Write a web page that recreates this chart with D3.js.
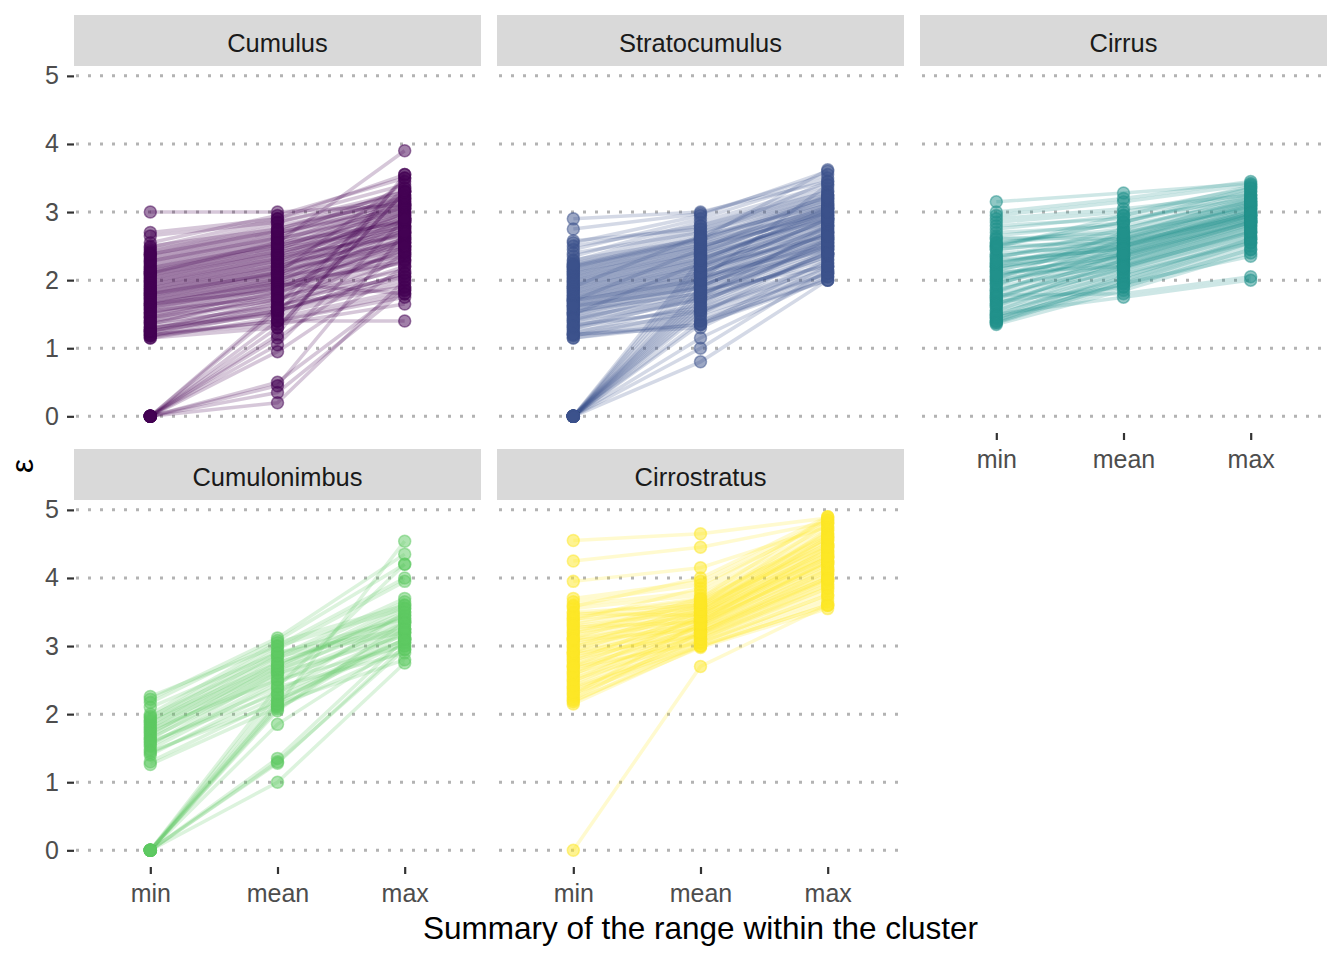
<!DOCTYPE html>
<html>

<head>
	<meta charset="utf-8">
	<script src="https://d3js.org/d3.v7.min.js"></script>
	<style>
		body {
			margin: 0;
			background: #ffffff;
		}

		text {
			font-family: "Liberation Sans", Arial, sans-serif;
		}

		.axis text {
			fill: #4d4d4d;
			font-size: 25px;
		}

		.axis line {
			stroke: #333333;
			stroke-width: 2.2px;
		}

		.axis path.domain {
			display: none;
		}

		.grid line {
			stroke: #b3b3b3;
			stroke-width: 3px;
			stroke-dasharray: 3, 9;
		}

		.strip text {
			fill: #1a1a1a;
			font-size: 25.5px;
		}
	</style>
</head>

<body>
	<div id="chart_container"></div>

	<script>
		// facet order and the three summaries on the x axis
		var cloudTypes = ["Cumulus", "Stratocumulus", "Cirrus", "Cumulonimbus", "Cirrostratus"];
		var summaries = ["min", "mean", "max"];
		var yTicks = [0, 1, 2, 3, 4, 5];

		// one [min, mean, max] triple per cluster
		var cumulus = [
			[1.15, 1.45, 1.85], [1.18, 1.55, 2.05], [1.20, 1.40, 1.75], [1.22, 1.60, 2.30], [1.25, 1.50, 1.95],
			[1.27, 1.70, 2.45], [1.30, 1.55, 2.10], [1.32, 1.65, 1.90], [1.35, 1.80, 2.60], [1.37, 1.60, 2.20],
			[1.40, 1.75, 2.35], [1.42, 1.85, 2.75], [1.45, 1.70, 2.05], [1.47, 1.90, 2.50], [1.50, 1.80, 2.40],
			[1.52, 1.95, 2.85], [1.55, 1.75, 2.15], [1.57, 2.00, 2.65], [1.60, 1.90, 2.30], [1.62, 2.05, 2.90],
			[1.65, 1.85, 2.45], [1.67, 2.10, 2.70], [1.70, 1.95, 2.25], [1.72, 2.15, 3.00], [1.75, 2.00, 2.55],
			[1.77, 2.20, 2.80], [1.80, 2.05, 2.35], [1.82, 2.25, 3.05], [1.85, 2.10, 2.60], [1.87, 2.30, 2.95],
			[1.90, 2.15, 2.50], [1.92, 2.35, 3.10], [1.95, 2.20, 2.70], [1.97, 2.40, 2.85], [2.00, 2.25, 2.55],
			[2.02, 2.45, 3.15], [2.05, 2.30, 2.75], [2.07, 2.50, 3.00], [2.10, 2.35, 2.65], [2.12, 2.55, 3.20],
			[2.15, 2.40, 2.90], [2.17, 2.60, 3.05], [2.20, 2.45, 2.80], [2.22, 2.65, 3.25], [2.25, 2.50, 2.95],
			[2.27, 2.70, 3.10], [2.30, 2.55, 2.85], [2.32, 2.75, 3.30], [2.35, 2.60, 3.00], [2.37, 2.80, 3.15],
			[2.40, 2.65, 3.35], [2.42, 2.85, 3.25], [2.45, 2.70, 3.05], [2.48, 2.90, 3.40], [2.50, 2.75, 3.20],
			[2.55, 2.95, 3.50], [2.65, 2.85, 3.30], [2.70, 2.90, 3.55], [3.00, 3.00, 3.10], [1.18, 1.40, 1.40],
			[1.20, 1.35, 1.65], [1.30, 1.50, 3.50], [2.10, 2.55, 3.90], [1.15, 1.30, 3.30], [1.65, 1.95, 1.80],
			[1.25, 1.65, 3.35], [1.25, 1.55, 2.00], [1.80, 2.10, 3.45],
			[1.52, 1.88, 2.55], [1.58, 1.92, 2.62], [1.63, 1.98, 2.48], [1.68, 2.02, 2.78], [1.73, 2.08, 2.58],
			[1.78, 2.12, 2.88], [1.83, 2.18, 2.68], [1.88, 2.22, 2.92], [1.93, 2.28, 2.72], [1.98, 2.32, 2.98],
			[2.03, 2.38, 2.78], [2.08, 2.42, 3.08], [2.13, 2.48, 2.88], [2.18, 2.52, 3.12], [1.45, 1.82, 2.42],
			[1.38, 1.72, 2.28], [2.28, 2.62, 3.18], [2.38, 2.72, 3.22],
			[0, 1.15, 2.40], [0, 1.05, 2.90], [0, 0.95, 2.20], [0, 1.30, 3.30], [0, 0.50, 1.90],
			[0, 0.45, 2.70], [0, 0.35, 1.85], [0, 0.20, 2.00], [0, 1.55, 2.10], [0, 1.40, 1.80],
			[0, 1.60, 2.50], [0, 1.20, 3.55]
		];

		var stratocumulus = [
			[1.15, 1.40, 2.00], [1.18, 1.55, 2.20], [1.20, 1.35, 2.05], [1.22, 1.65, 2.40], [1.25, 1.50, 2.10],
			[1.28, 1.75, 2.55], [1.30, 1.60, 2.25], [1.33, 1.80, 2.45], [1.35, 1.55, 2.15], [1.38, 1.90, 2.70],
			[1.40, 1.70, 2.35], [1.43, 1.95, 2.60], [1.45, 1.75, 2.30], [1.48, 2.00, 2.80], [1.50, 1.85, 2.50],
			[1.53, 2.05, 2.65], [1.55, 1.80, 2.40], [1.58, 2.10, 2.90], [1.60, 1.90, 2.55], [1.63, 2.15, 2.75],
			[1.65, 1.95, 2.45], [1.68, 2.20, 2.95], [1.70, 2.00, 2.60], [1.73, 2.25, 2.85], [1.75, 2.05, 2.50],
			[1.78, 2.30, 3.00], [1.80, 2.10, 2.70], [1.83, 2.35, 2.90], [1.85, 2.15, 2.65], [1.88, 2.40, 3.05],
			[1.90, 2.20, 2.80], [1.93, 2.45, 3.10], [1.95, 2.25, 2.75], [1.98, 2.50, 3.00], [2.00, 2.30, 2.85],
			[2.03, 2.55, 3.15], [2.05, 2.35, 2.95], [2.08, 2.60, 3.20], [2.10, 2.40, 2.90], [2.13, 2.65, 3.10],
			[2.15, 2.45, 3.00], [2.18, 2.70, 3.25], [2.20, 2.50, 2.95], [2.23, 2.75, 3.30], [2.25, 2.55, 3.05],
			[2.28, 2.80, 3.35], [2.30, 2.60, 3.15], [2.35, 2.85, 3.40], [2.40, 2.70, 3.20], [2.45, 2.90, 3.50],
			[2.50, 2.80, 3.30], [2.55, 2.95, 3.60], [2.58, 2.75, 3.25], [2.75, 2.98, 3.55], [2.90, 3.00, 3.45],
			[1.20, 1.30, 2.20], [1.15, 1.35, 2.00], [1.20, 1.45, 2.10], [2.20, 2.60, 3.62], [1.70, 2.00, 3.40],
			[1.50, 2.25, 3.05], [1.70, 2.45, 3.25], [1.90, 2.65, 3.45],
			[1.52, 1.92, 2.58], [1.57, 1.98, 2.68], [1.62, 2.03, 2.62], [1.67, 2.08, 2.78], [1.72, 2.12, 2.72],
			[1.77, 2.18, 2.88], [1.82, 2.22, 2.82], [1.87, 2.28, 2.98], [1.92, 2.32, 2.92], [1.97, 2.38, 3.08],
			[2.02, 2.42, 3.02], [2.07, 2.48, 3.12], [2.12, 2.52, 3.06], [2.17, 2.58, 3.18], [1.42, 1.82, 2.48],
			[1.32, 1.72, 2.38], [2.22, 2.62, 3.22], [1.62, 1.88, 2.52],
			[0, 0.80, 2.00], [0, 1.00, 2.15], [0, 1.15, 2.05], [0, 1.35, 2.30], [0, 1.40, 2.10],
			[0, 1.50, 2.45], [0, 1.55, 2.25], [0, 1.65, 2.60], [0, 1.70, 2.35], [0, 1.75, 2.80],
			[0, 1.80, 2.50], [0, 1.85, 2.20], [0, 1.90, 2.70], [0, 2.00, 2.55], [0, 2.10, 2.90],
			[0, 2.20, 2.65], [0, 2.30, 3.00], [0, 1.60, 2.40]
		];

		var cirrus = [
			[1.35, 1.85, 2.40], [1.38, 2.00, 2.55], [1.40, 1.90, 2.45], [1.43, 2.10, 2.65], [1.45, 1.95, 2.50],
			[1.48, 2.15, 2.70], [1.50, 2.05, 2.60], [1.55, 2.20, 2.75], [1.60, 2.10, 2.55], [1.65, 2.25, 2.80],
			[1.70, 2.15, 2.65], [1.75, 2.30, 2.85], [1.80, 2.20, 2.70], [1.85, 2.35, 2.90], [1.90, 2.25, 2.75],
			[1.95, 2.40, 2.95], [2.00, 2.30, 2.80], [2.05, 2.45, 3.00], [2.10, 2.35, 2.85], [2.15, 2.50, 3.05],
			[2.20, 2.40, 2.90], [2.25, 2.55, 3.10], [2.30, 2.45, 2.95], [2.35, 2.60, 3.15], [2.40, 2.50, 3.00],
			[2.45, 2.65, 3.10], [2.50, 2.55, 2.95], [2.55, 2.75, 3.20], [2.60, 2.70, 3.05], [2.65, 2.85, 3.25],
			[2.70, 2.80, 3.15], [2.75, 2.95, 3.30], [2.80, 2.90, 3.20], [2.85, 3.00, 3.35], [2.90, 3.05, 3.25],
			[2.95, 3.15, 3.40], [3.00, 3.20, 3.45], [3.15, 3.28, 3.42], [1.55, 2.00, 2.60], [1.62, 2.30, 2.85],
			[1.72, 2.40, 2.95], [1.82, 2.50, 3.05], [1.92, 2.60, 3.10], [2.02, 2.70, 3.15], [2.12, 2.20, 2.70],
			[2.22, 2.65, 3.20], [2.32, 2.75, 3.25], [2.00, 2.35, 2.85], [2.52, 2.85, 3.30], [2.62, 2.60, 3.00],
			[1.78, 1.80, 2.05], [1.50, 1.75, 2.00], [1.40, 2.05, 2.60], [1.45, 1.95, 2.35], [1.37, 1.95, 2.55],
			[2.20, 2.50, 2.90], [2.50, 2.85, 3.35], [1.68, 1.90, 2.45], [2.18, 2.55, 2.95], [2.48, 2.95, 3.38],
			[1.85, 2.28, 2.82], [1.95, 2.36, 2.88], [2.05, 2.42, 2.92], [2.15, 2.48, 2.98], [2.25, 2.52, 3.02],
			[2.35, 2.58, 3.08], [2.45, 2.62, 3.12], [2.55, 2.68, 3.16], [1.75, 2.22, 2.78], [1.65, 2.18, 2.72],
			[2.28, 2.46, 2.98], [2.08, 2.38, 2.86]
		];

		var cumulonimbus = [
			[1.26, 2.10, 2.95], [1.30, 2.20, 3.05], [1.40, 2.35, 3.20], [1.43, 2.25, 3.10], [1.48, 2.45, 3.35],
			[1.53, 2.50, 3.25], [1.55, 2.60, 3.45], [1.58, 2.40, 2.90], [1.63, 2.65, 3.55], [1.65, 2.55, 3.30],
			[1.68, 2.70, 3.60], [1.70, 2.75, 3.40], [1.73, 2.60, 3.15], [1.75, 2.80, 3.65], [1.78, 2.50, 3.00],
			[1.80, 2.85, 3.70], [1.82, 2.65, 3.35], [1.85, 2.90, 3.25], [1.88, 2.70, 3.50], [1.90, 2.95, 3.95],
			[1.92, 2.75, 3.45], [1.95, 3.00, 4.00], [1.97, 2.85, 3.20], [2.00, 3.05, 3.60], [2.10, 2.90, 3.40],
			[2.17, 3.08, 4.20], [2.22, 3.12, 4.35], [2.26, 3.00, 3.55], [1.60, 2.30, 3.10], [1.45, 2.15, 2.80],
			[0, 1.00, 2.75], [0, 1.28, 3.00], [0, 1.35, 3.10], [0, 1.30, 2.95], [0, 1.85, 3.05],
			[0, 2.08, 3.20], [0, 2.12, 4.54], [0, 2.05, 3.35], [0, 2.20, 3.10], [0, 2.30, 3.50],
			[0, 2.40, 4.20], [0, 2.15, 3.25]
		];

		var cirrostratus = [
			[2.15, 3.00, 3.60], [2.18, 3.05, 3.75], [2.20, 2.98, 3.55], [2.25, 3.10, 3.85], [2.30, 3.00, 3.65],
			[2.35, 3.15, 3.95], [2.40, 3.05, 3.70], [2.45, 3.20, 4.00], [2.50, 3.10, 3.80], [2.55, 3.25, 4.05],
			[2.60, 3.15, 3.90], [2.65, 3.30, 4.15], [2.70, 3.20, 3.95], [2.75, 3.35, 4.20], [2.80, 3.25, 4.00],
			[2.85, 3.40, 4.30], [2.90, 3.30, 4.10], [2.95, 3.45, 4.35], [3.00, 3.35, 4.20], [3.05, 3.50, 4.40],
			[3.10, 3.40, 4.25], [3.15, 3.55, 4.50], [3.20, 3.45, 4.35], [3.25, 3.60, 4.55], [3.30, 3.50, 4.40],
			[3.35, 3.65, 4.60], [3.40, 3.55, 4.45], [3.45, 3.70, 4.65], [3.50, 3.60, 4.50], [3.55, 3.75, 4.70],
			[3.60, 3.80, 4.75], [3.65, 3.90, 4.80], [3.70, 3.95, 4.85], [3.95, 4.15, 4.75], [4.25, 4.45, 4.82],
			[4.55, 4.65, 4.88], [2.22, 3.20, 4.10], [2.28, 3.35, 4.45], [2.38, 3.00, 3.60], [2.48, 3.30, 4.25],
			[2.58, 3.45, 4.60], [2.68, 3.05, 3.75], [2.78, 3.50, 4.70], [2.88, 3.15, 3.85], [2.98, 3.60, 4.80],
			[3.08, 3.25, 4.05], [3.18, 3.70, 4.90], [3.28, 3.35, 4.15], [3.38, 3.85, 4.85], [3.48, 3.45, 4.30],
			[3.58, 4.00, 4.90], [2.32, 3.10, 3.90], [2.52, 3.20, 4.00], [2.72, 3.40, 4.30], [2.92, 3.55, 4.55],
			[3.12, 3.65, 4.65], [2.62, 3.28, 4.12], [2.82, 3.38, 4.22], [3.02, 3.48, 4.38], [3.22, 3.58, 4.48],
			[2.42, 3.18, 3.98], [3.42, 3.68, 4.62], [2.70, 3.32, 4.25], [2.90, 3.42, 4.32], [3.10, 3.52, 4.45],
			[3.32, 3.62, 4.58], [0, 2.70, 3.60]
		];

		var cloudData = [cumulus, stratocumulus, cirrus, cumulonimbus, cirrostratus];
		var colours = d3.quantize(d3.interpolateViridis, cloudTypes.length);

		// facet geometry
		var width = 1344,
			height = 960;
		var panelLefts = [74, 497, 920];
		var rowTops = [15, 449];
		var panelWidth = 407,
			stripHeight = 51,
			panelHeight = 367;

		var x = d3.scalePoint()
			.domain(summaries)
			.range([0, panelWidth])
			.padding(0.6);

		var y = d3.scaleLinear()
			.domain([-0.245, 5.145])
			.range([panelHeight, 0]);

		var lineBuilder = d3.line()
			.x(function(d, i) {
				return x(summaries[i]);
			})
			.y(function(d) {
				return y(d);
			});

		var svg = d3.select("#chart_container")
			.append("svg")
			.attr("width", width)
			.attr("height", height);

		cloudTypes.forEach(function(cloud, ci) {
			var col = ci % 3,
				row = Math.floor(ci / 3);
			var colour = colours[ci];

			var gFacet = svg.append("g")
				.attr("transform", "translate(" + panelLefts[col] + "," + rowTops[row] + ")");

			// strip
			var gStrip = gFacet.append("g").attr("class", "strip");
			gStrip.append("rect")
				.attr("width", panelWidth)
				.attr("height", stripHeight)
				.attr("fill", "#d9d9d9");
			gStrip.append("text")
				.attr("x", panelWidth / 2)
				.attr("y", 37)
				.attr("text-anchor", "middle")
				.text(cloud);

			var gPanel = gFacet.append("g")
				.attr("transform", "translate(0," + stripHeight + ")");

			// dotted horizontal grid
			gPanel.append("g")
				.attr("class", "grid")
				.selectAll("line")
				.data(yTicks)
				.enter()
				.append("line")
				.attr("x1", 2)
				.attr("x2", panelWidth)
				.attr("y1", function(d) {
					return y(d);
				})
				.attr("y2", function(d) {
					return y(d);
				});

			// y axis on the left column only
			if (col === 0) {
				gPanel.append("g")
					.attr("class", "axis")
					.call(d3.axisLeft(y).tickValues(yTicks).tickSize(7).tickPadding(8).tickFormat(d3.format("d")));
			}

			// x axis where no panel sits underneath
			if (row === 1 || col === 2) {
				gPanel.append("g")
					.attr("class", "axis")
					.attr("transform", "translate(0," + panelHeight + ")")
					.call(d3.axisBottom(x).tickSize(7).tickPadding(10));
			}

			var data = cloudData[ci];

			gPanel.append("g")
				.selectAll("path")
				.data(data)
				.enter()
				.append("path")
				.attr("d", lineBuilder)
				.attr("fill", "none")
				.attr("stroke", colour)
				.attr("stroke-opacity", 0.22)
				.attr("stroke-width", 3.5);

			var pointData = [];
			data.forEach(function(triple) {
				triple.forEach(function(v, i) {
					pointData.push({
						summary: summaries[i],
						value: v
					});
				});
			});

			gPanel.append("g")
				.selectAll("circle")
				.data(pointData)
				.enter()
				.append("circle")
				.attr("cx", function(d) {
					return x(d.summary);
				})
				.attr("cy", function(d) {
					return y(d.value);
				})
				.attr("r", 6)
				.attr("fill", colour)
				.attr("fill-opacity", 0.5)
				.attr("stroke", colour)
				.attr("stroke-opacity", 0.5)
				.attr("stroke-width", 1.5);
		});

		// axis titles
		svg.append("text")
			.attr("x", (panelLefts[0] + panelLefts[2] + panelWidth) / 2)
			.attr("y", 939)
			.attr("text-anchor", "middle")
			.attr("font-size", "31.5px")
			.attr("fill", "#000000")
			.text("Summary of the range within the cluster");

		svg.append("text")
			.attr("transform", "translate(33,466) rotate(-90)")
			.attr("text-anchor", "middle")
			.attr("font-size", "31.5px")
			.attr("fill", "#000000")
			.text("ε");
	</script>
</body>
</html>
